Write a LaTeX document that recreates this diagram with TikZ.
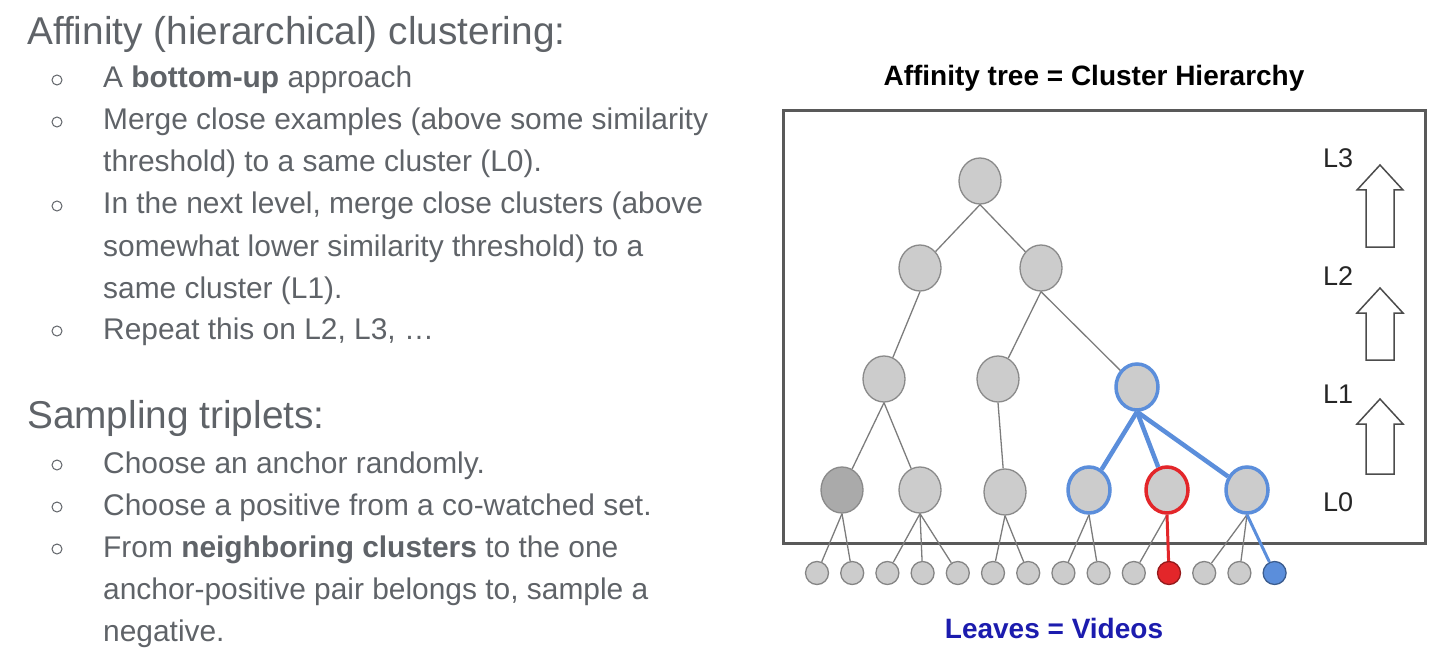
\documentclass[tikz,border=0pt]{standalone}
\usepackage{fontspec}
\setmainfont{Liberation Sans}
\usetikzlibrary{shapes.geometric}

\definecolor{textogris}{HTML}{5F6368}
\definecolor{relleno}{HTML}{CCCCCC}
\definecolor{rellenoosc}{HTML}{AAAAAA}
\definecolor{borde}{HTML}{8A8A8A}
\definecolor{azul}{HTML}{5B8EDB}
\definecolor{rojo}{HTML}{E3262A}
\definecolor{azuloscuro}{HTML}{1C1CAE}

\begin{document}
\begin{tikzpicture}[x=1pt, y=-1pt,
  encabezado/.style={anchor=base west, inner sep=0pt, text=textogris,
               font=\fontsize{38.8}{45}\selectfont},
  texto/.style={anchor=base west, inner sep=0pt, text=textogris,
               font=\fontsize{29.9}{35}\selectfont},
  vineta/.style={circle, draw=textogris, line width=1pt, minimum size=10pt, inner sep=0pt},
  nodo/.style={ellipse, draw=borde, fill=relleno, line width=1.3pt,
               minimum width=42pt, minimum height=46pt, inner sep=0pt},
  hoja/.style={circle, line width=1.3pt, minimum size=23pt, inner sep=0pt},
  arista/.style={draw=borde!90!black, line width=1.3pt},
  aristaazul/.style={draw=azul, line width=4.5pt},
  nivel/.style={text=black!85, font=\fontsize{27}{30}\selectfont},
  flechahueca/.style={draw=black!70, fill=white, line width=1.5pt, line join=miter}
]
  \useasboundingbox (0,0) rectangle (1440,663);

  % texto de la izquierda
  \node[encabezado] (tit1) at (27,45) {Affinity (hierarchical) clustering:};
  \node[vineta] (v1) at (57,80) {};
  \node[texto] (a1) at (103,88) {A \textbf{bottom-up} approach};
  \node[vineta] (v2) at (57,122) {};
  \node[texto] (a2) at (103,130) {Merge close examples (above some similarity};
  \node[texto] (a3) at (103,172) {threshold) to a same cluster (L0).};
  \node[vineta] (v3) at (57,206) {};
  \node[texto] (a4) at (103,214) {In the next level, merge close clusters (above};
  \node[texto] (a5) at (103,256) {somewhat lower similarity threshold) to a};
  \node[texto] (a6) at (103,298) {same cluster (L1).};
  \node[vineta] (v4) at (57,331) {};
  \node[texto] (a7) at (103,339) {Repeat this on L2, L3, …};

  \node[encabezado] (tit2) at (27,428) {Sampling triplets:};
  \node[vineta] (v5) at (57,465) {};
  \node[texto] (b1) at (103,473) {Choose an anchor randomly.};
  \node[vineta] (v6) at (57,507) {};
  \node[texto] (b2) at (103,515) {Choose a positive from a co-watched set.};
  \node[vineta] (v7) at (57,549) {};
  \node[texto] (b3) at (103,557) {From \textbf{neighboring clusters} to the one};
  \node[texto] (b4) at (103,599) {anchor-positive pair belongs to, sample a};
  \node[texto] (b5) at (103,641) {negative.};

  % arbol
  \node[font=\bfseries\fontsize{28}{32}\selectfont] (arbol) at (1094,78) {Affinity tree = Cluster Hierarchy};
  \draw[black!65, line width=3pt] (783,111) rectangle (1425,543);

  \node[nodo] (raiz) at (980,181) {};
  \node[nodo] (n2a) at (920,268) {};
  \node[nodo] (n2b) at (1041,268) {};
  \node[nodo] (n1a) at (884,379) {};
  \node[nodo] (n1b) at (998,379) {};
  \node[nodo, draw=azul, line width=3.5pt] (n1c) at (1137,387) {};
  \node[nodo, fill=rellenoosc] (n0a) at (842,490) {};
  \node[nodo] (n0b) at (920,490) {};
  \node[nodo] (n0c) at (1005,492) {};
  \node[nodo, draw=azul, line width=3.5pt] (n0d) at (1089,490) {};
  \node[nodo, draw=rojo, line width=3.5pt] (n0e) at (1167,490) {};
  \node[nodo, draw=azul, line width=3.5pt] (n0f) at (1247,490) {};

  \foreach \c [count=\i] in {relleno,relleno,relleno,relleno,relleno,relleno,relleno,
                             relleno,relleno,relleno,rojo,relleno,relleno,azul}
    \node[hoja, fill=\c, draw=\c!65!black] (h\i) at ({817+35.2*(\i-1)},573) {};

  \draw[arista] (raiz.south) -- (n2a);
  \draw[arista] (raiz.south) -- (n2b);
  \draw[arista] (n2a.south) -- (n1a);
  \draw[arista] (n2b.south) -- (n1b);
  \draw[arista] (n2b.south) -- (n1c);
  \draw[arista] (n1a.south) -- (n0a);
  \draw[arista] (n1a.south) -- (n0b);
  \draw[arista] (n1b.south) -- (n0c);
  \draw[aristaazul] (n1c.south) -- (n0d);
  \draw[aristaazul] (n1c.south) -- (n0e);
  \draw[aristaazul] (n1c.south) -- (n0f);

  \draw[arista] (n0a.south) -- (h1);
  \draw[arista] (n0a.south) -- (h2);
  \draw[arista] (n0b.south) -- (h3);
  \draw[arista] (n0b.south) -- (h4);
  \draw[arista] (n0b.south) -- (h5);
  \draw[arista] (n0c.south) -- (h6);
  \draw[arista] (n0c.south) -- (h7);
  \draw[arista] (n0d.south) -- (h8);
  \draw[arista] (n0d.south) -- (h9);
  \draw[arista] (n0e.south) -- (h10);
  \draw[rojo, line width=3pt] (n0e.south) -- (h11);
  \draw[arista] (n0f.south) -- (h12);
  \draw[arista] (n0f.south) -- (h13);
  \draw[azul, line width=3pt] (n0f.south) -- (h14);

  % niveles
  \node[nivel] (l3) at (1338,158) {L3};
  \node[nivel] (l2) at (1338,276) {L2};
  \node[nivel] (l1) at (1338,394) {L1};
  \node[nivel] (l0) at (1338,502) {L0};
  \foreach \yt/\yb in {165/247, 288/360, 399/474}
    \draw[flechahueca] (1380,\yt) -- (1403,\yt+25) -- (1394,\yt+25) -- (1394,\yb)
      -- (1366,\yb) -- (1366,\yt+25) -- (1357,\yt+25) -- cycle;

  \node[font=\bfseries\fontsize{28}{32}\selectfont, text=azuloscuro] (hojas) at (1054,628) {Leaves = Videos};
\end{tikzpicture}
\end{document}
